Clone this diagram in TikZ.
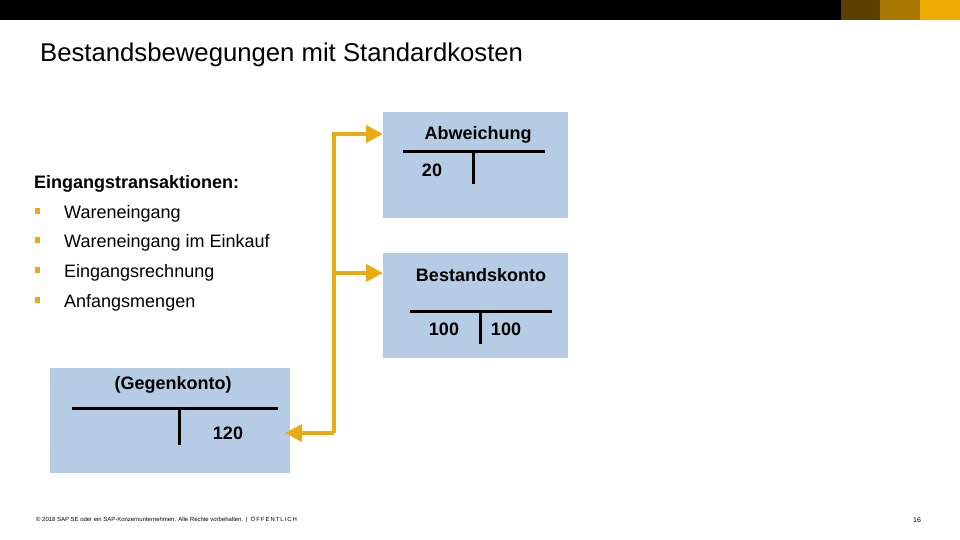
\documentclass[tikz,border=0pt]{standalone}
\usepackage{fontspec}
\setmainfont{Liberation Sans}
\usetikzlibrary{arrows.meta}
\definecolor{boxblue}{RGB}{181,204,228}
\definecolor{sapgold}{RGB}{234,171,18}
\definecolor{bardark}{RGB}{92,64,0}
\definecolor{barmid}{RGB}{168,120,0}
\definecolor{baryel}{RGB}{240,171,0}
\tikzset{
  acct/.style={fill=boxblue, draw=none, inner sep=0pt},
  tline/.style={line width=3pt, black},
  conn/.style={line width=4pt, draw=sapgold, line join=miter, -{Triangle[length=17pt,width=17pt]}},
  lbl/.style={font=\fontsize{18}{20}\selectfont\bfseries, anchor=base, inner sep=0pt},
  item/.style={font=\fontsize{18}{20}\selectfont, anchor=base west, inner sep=0pt},
  bullet/.style={fill=sapgold, draw=none, minimum size=5.5pt, inner sep=0pt}
}
\begin{document}
\begin{tikzpicture}[x=1pt,y=-1pt]
\useasboundingbox (0,0) rectangle (960,540);
% top bar
\fill[black] (0,0) rectangle (841,20);
\fill[bardark] (841,0) rectangle (880,20);
\fill[barmid] (880,0) rectangle (920,20);
\fill[baryel] (920,0) rectangle (960,20);
% title
\node[anchor=base west, inner sep=0pt, font=\fontsize{25.7}{28}\selectfont] (title) at (40,62) {Bestandsbewegungen mit Standardkosten};
% left list
\node[anchor=base west, inner sep=0pt, font=\fontsize{18}{20}\selectfont\bfseries] (ein) at (34,189) {Eingangstransaktionen:};
\node[bullet] (b1) at (37.5,211) {};
\node[item] (i1) at (64,218) {Wareneingang};
\node[bullet] (b2) at (37.5,240) {};
\node[item] (i2) at (64,247) {Wareneingang im Einkauf};
\node[bullet] (b3) at (37.5,270) {};
\node[item] (i3) at (64,277) {Eingangsrechnung};
\node[bullet] (b4) at (37.5,300) {};
\node[item] (i4) at (64,307) {Anfangsmengen};
% Abweichung
\node[acct, minimum width=185pt, minimum height=106pt, anchor=north west] (abw) at (383,112) {};
\node[lbl] (abwT) at (478,140) {Abweichung};
\draw[tline] (403,152) coordinate (abwL1) -- (545,152) coordinate (abwL2);
\draw[tline] (473,152) coordinate (abwV1) -- (473,184) coordinate (abwV2);
\node[lbl] (abw20) at (432,176) {20};
% Bestandskonto
\node[acct, minimum width=185pt, minimum height=105pt, anchor=north west] (bst) at (383,253) {};
\node[lbl] (bstT) at (481,281) {Bestandskonto};
\draw[tline] (410,311) coordinate (bstL1) -- (552,311) coordinate (bstL2);
\draw[tline] (480,311) coordinate (bstV1) -- (480,344) coordinate (bstV2);
\node[lbl] (bstA) at (444,335) {100};
\node[lbl] (bstB) at (506,335) {100};
% Gegenkonto
\node[acct, minimum width=240pt, minimum height=105pt, anchor=north west] (geg) at (50,368) {};
\node[lbl] (gegT) at (173,389) {(Gegenkonto)};
\draw[tline] (72,408) coordinate (gegL1) -- (278,408) coordinate (gegL2);
\draw[tline] (179,408) coordinate (gegV1) -- (179,445) coordinate (gegV2);
\node[lbl] (geg120) at (228,439) {120};
% connectors
\coordinate (spineB) at (334,433);
\coordinate (spineM) at (334,273);
\coordinate (abwIn) at (abw.west |- 0,134);
\coordinate (bstIn) at (bst.west |- 0,273);
\coordinate (gegIn) at (285,433);
\draw[conn] (spineB) |- (abwIn);
\draw[conn] (spineM) -- (bstIn);
\draw[conn] (spineB) -- (gegIn);
% footer
\node[anchor=base west, inner sep=0pt, font=\fontsize{5.95}{7}\selectfont] (foot) at (36,521) {© 2018 SAP SE oder ein SAP-Konzernunternehmen. Alle Rechte vorbehalten.\hspace{3pt}|\hspace{3pt}Ö\,F\,F\,E\,N\,T\,L\,I\,C\,H};
\node[anchor=base west, inner sep=0pt, font=\fontsize{7}{8}\selectfont] (page) at (913,522) {16};
\end{tikzpicture}
\end{document}
